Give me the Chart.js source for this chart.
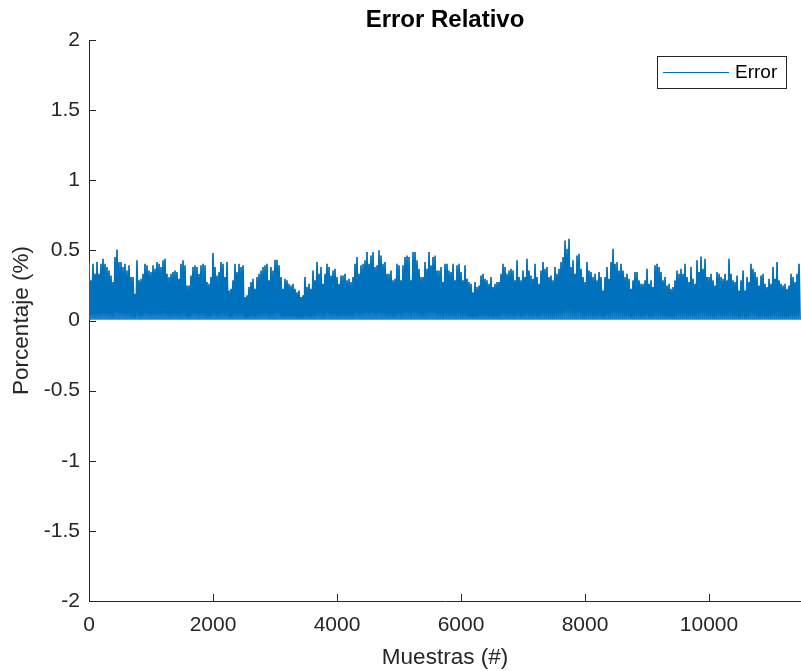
<!DOCTYPE html>
<html>
<head>
<meta charset="utf-8">
<script src="https://cdn.jsdelivr.net/npm/chart.js@4.4.1/dist/chart.umd.min.js"></script>
<style>
  html, body { margin: 0; padding: 0; background: #fff; }
  #wrap { width: 801px; height: 671px; }
</style>
</head>
<body>
<div id="wrap"><canvas id="chart" width="801" height="671"></canvas></div>
<script>
const titleText = 'Error Relativo'
const xLabel = 'Muestras (#)'
const yLabel = 'Porcentaje (%)'
const seriesLabel = 'Error'

const xTicks = [0, 2000, 4000, 6000, 8000, 10000]
const yTicks = [-2, -1.5, -1, -0.5, 0, 0.5, 1, 1.5, 2]
const xMax = 11484

// peak error per ~32 samples, plus the floor it drops back to
const sampleStep = 32.26
const errorFloor = 0.006

const peaks1 = [0.417, 0.286, 0.405, 0.333, 0.417, 0.333, 0.405, 0.440, 0.405, 0.381, 0.357, 0.321, 0.274, 0.452, 0.507, 0.417, 0.417, 0.381, 0.405, 0.357, 0.393, 0.310, 0.310, 0.190, 0.429, 0.286, 0.298, 0.333, 0.405, 0.393, 0.357, 0.345, 0.393, 0.369, 0.417, 0.405, 0.381, 0.429, 0.440, 0.333, 0.310, 0.333, 0.345, 0.357, 0.345, 0.298, 0.405, 0.429, 0.393, 0.250, 0.250, 0.321, 0.381, 0.393, 0.381, 0.333, 0.393, 0.405, 0.393]
const peaks2 = [0.274, 0.262, 0.310, 0.481, 0.381, 0.321, 0.345, 0.417, 0.405, 0.310, 0.417, 0.214, 0.226, 0.286, 0.405, 0.345, 0.405, 0.381, 0.393, 0.167, 0.179, 0.238, 0.274, 0.298, 0.226, 0.310, 0.333, 0.357, 0.381, 0.393, 0.405, 0.286, 0.381, 0.357, 0.433, 0.433, 0.393, 0.310, 0.226, 0.298, 0.286, 0.262, 0.250, 0.262, 0.226, 0.202, 0.214, 0.167, 0.179, 0.310, 0.238, 0.262, 0.226, 0.357, 0.286, 0.417, 0.333, 0.381, 0.262, 0.333]
const peaks3 = [0.405, 0.381, 0.321, 0.357, 0.369, 0.310, 0.262, 0.321, 0.321, 0.333, 0.286, 0.298, 0.274, 0.310, 0.405, 0.452, 0.333, 0.393, 0.405, 0.429, 0.488, 0.405, 0.464, 0.488, 0.381, 0.393, 0.500, 0.464, 0.405, 0.417, 0.333, 0.333, 0.357, 0.286, 0.298, 0.405, 0.393, 0.286, 0.393, 0.452, 0.464, 0.452, 0.286, 0.488, 0.488, 0.429, 0.369, 0.310, 0.310, 0.417, 0.369, 0.488, 0.393, 0.452, 0.464, 0.357, 0.357, 0.381, 0.274, 0.405]
const peaks4 = [0.405, 0.357, 0.345, 0.405, 0.286, 0.393, 0.405, 0.345, 0.286, 0.393, 0.298, 0.274, 0.262, 0.202, 0.274, 0.238, 0.250, 0.321, 0.333, 0.298, 0.286, 0.262, 0.310, 0.238, 0.262, 0.274, 0.274, 0.333, 0.405, 0.381, 0.333, 0.357, 0.369, 0.357, 0.286, 0.429, 0.310, 0.286, 0.357, 0.310, 0.440, 0.357, 0.321, 0.298, 0.405, 0.310, 0.262, 0.357, 0.417, 0.369, 0.381, 0.310, 0.321, 0.286, 0.381, 0.333, 0.369, 0.417, 0.452, 0.571]
const peaks5 = [0.512, 0.583, 0.381, 0.429, 0.333, 0.464, 0.476, 0.369, 0.310, 0.274, 0.417, 0.357, 0.345, 0.310, 0.333, 0.286, 0.345, 0.310, 0.214, 0.310, 0.381, 0.298, 0.417, 0.512, 0.405, 0.417, 0.357, 0.405, 0.357, 0.310, 0.333, 0.298, 0.226, 0.286, 0.345, 0.345, 0.286, 0.262, 0.262, 0.286, 0.369, 0.262, 0.286, 0.238, 0.393, 0.405, 0.381, 0.345, 0.286, 0.310, 0.250, 0.262, 0.226, 0.238, 0.286, 0.357, 0.333, 0.369, 0.333, 0.405]
const peaks6 = [0.310, 0.274, 0.381, 0.298, 0.262, 0.429, 0.345, 0.457, 0.369, 0.440, 0.310, 0.310, 0.333, 0.286, 0.250, 0.345, 0.333, 0.310, 0.298, 0.333, 0.286, 0.440, 0.333, 0.286, 0.274, 0.321, 0.214, 0.286, 0.357, 0.214, 0.310, 0.274, 0.405, 0.369, 0.345, 0.310, 0.250, 0.321, 0.333, 0.262, 0.238, 0.298, 0.262, 0.381, 0.298, 0.417, 0.286, 0.262, 0.250, 0.262, 0.226, 0.250, 0.333, 0.310, 0.274, 0.333, 0.405]

const lineColor = '#0072BD'
const axisColor = '#262626'
const fontFamily = "'Liberation Sans', Arial, Helvetica, sans-serif"

function buildPoints () {
  const peaks = [].concat(peaks1, peaks2, peaks3, peaks4, peaks5, peaks6)
  const points = []
  peaks.forEach((p, i) => {
    points.push({ x: i * sampleStep, y: p })
    points.push({ x: i * sampleStep + sampleStep / 2, y: errorFloor })
  })
  return points
}

// matlab style ticks, pointing into the axes
const inwardTicks = {
  id: 'inwardTicks',
  afterDraw (chart) {
    const { ctx, chartArea, scales } = chart
    ctx.save()
    ctx.strokeStyle = axisColor
    ctx.lineWidth = 1
    ctx.beginPath()
    scales.y.ticks.forEach((t) => {
      const y = Math.round(scales.y.getPixelForValue(t.value)) + 0.5
      ctx.moveTo(chartArea.left, y)
      ctx.lineTo(chartArea.left + 7, y)
    })
    scales.x.ticks.forEach((t) => {
      const x = Math.round(scales.x.getPixelForValue(t.value)) + 0.5
      ctx.moveTo(x, chartArea.bottom)
      ctx.lineTo(x, chartArea.bottom - 7)
    })
    ctx.stroke()
    ctx.restore()
  }
}

const boxedLegend = {
  id: 'boxedLegend',
  afterDraw (chart) {
    const { ctx } = chart
    const ds = chart.data.datasets[0]
    ctx.save()
    ctx.fillStyle = '#fff'
    ctx.fillRect(657, 56, 130, 33)
    ctx.strokeStyle = axisColor
    ctx.lineWidth = 1
    ctx.strokeRect(657.5, 56.5, 129, 32)
    ctx.strokeStyle = ds.borderColor
    ctx.beginPath()
    ctx.moveTo(663, 72.5)
    ctx.lineTo(729, 72.5)
    ctx.stroke()
    ctx.fillStyle = '#000'
    ctx.font = '19px ' + fontFamily
    ctx.textBaseline = 'middle'
    ctx.fillText(ds.label, 735, 73)
    ctx.restore()
  }
}

const axesTitle = {
  id: 'axesTitle',
  afterDraw (chart) {
    const { ctx, chartArea } = chart
    ctx.save()
    ctx.fillStyle = '#000'
    ctx.font = 'bold 24px ' + fontFamily
    ctx.textAlign = 'center'
    ctx.textBaseline = 'middle'
    ctx.fillText(titleText, (chartArea.left + chartArea.right) / 2, 20)
    ctx.restore()
  }
}

new Chart(document.getElementById('chart'), {
  type: 'line',
  data: {
    datasets: [{
      label: seriesLabel,
      data: buildPoints(),
      borderColor: lineColor,
      borderWidth: 1.7,
      pointRadius: 0,
      tension: 0,
      fill: false
    }]
  },
  options: {
    responsive: false,
    animation: false,
    events: [],
    layout: { padding: { top: 40, right: 0, bottom: 0, left: 0 } },
    plugins: {
      legend: { display: false },
      tooltip: { enabled: false }
    },
    scales: {
      x: {
        type: 'linear',
        min: 0,
        max: xMax,
        afterBuildTicks: (axis) => { axis.ticks = xTicks.map((v) => ({ value: v })) },
        afterFit: (axis) => { axis.height = 70 },
        grid: { display: false, drawTicks: false },
        border: { display: true, color: axisColor, width: 1 },
        ticks: {
          color: axisColor,
          font: { family: fontFamily, size: 21 },
          padding: 12,
          maxRotation: 0,
          autoSkip: false,
          callback: (v) => String(v)
        },
        title: {
          display: true,
          text: xLabel,
          color: axisColor,
          font: { family: fontFamily, size: 22.5 },
          padding: { top: 0, bottom: 0 }
        }
      },
      y: {
        min: -2,
        max: 2,
        afterBuildTicks: (axis) => { axis.ticks = yTicks.map((v) => ({ value: v })) },
        afterFit: (axis) => { axis.width = 89 },
        grid: { display: false, drawTicks: false },
        border: { display: true, color: axisColor, width: 1 },
        ticks: {
          color: axisColor,
          font: { family: fontFamily, size: 21 },
          padding: 9,
          autoSkip: false,
          callback: (v) => String(v)
        },
        title: {
          display: true,
          text: yLabel,
          color: axisColor,
          font: { family: fontFamily, size: 22.5 },
          padding: { top: 8, bottom: 0 }
        }
      }
    }
  },
  plugins: [inwardTicks, boxedLegend, axesTitle]
})
</script>
</body>
</html>
